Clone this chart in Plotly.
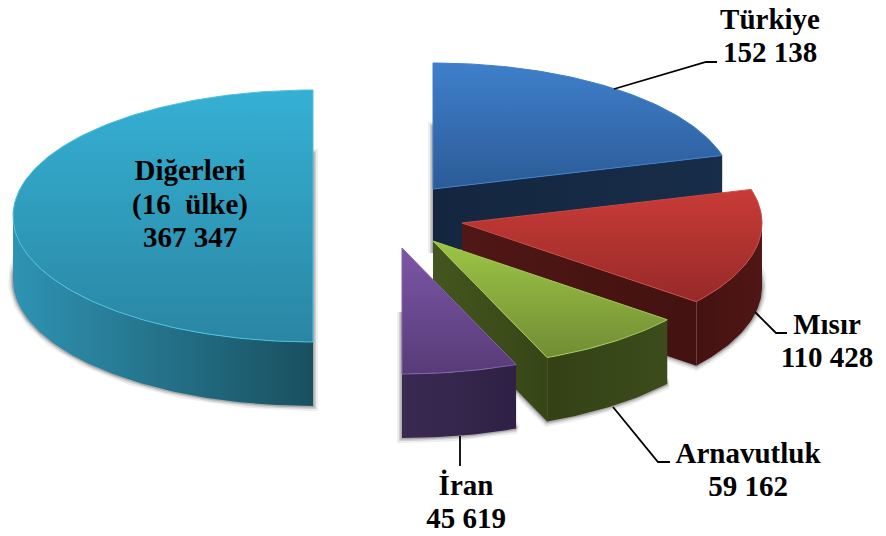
import numpy as np
import plotly.graph_objects as go

# Data
names = ["Türkiye", "Mısır", "Arnavutluk", "İran", "Diğerleri"]
values = [152138, 110428, 59162, 45619, 367347]
value_labels = ["152 138", "110 428", "59 162", "45 619", "367 347"]

# Projection of the 3D pie on the page (pixels)
RX, RY, DEPTH = 300, 126, 64
apex_x = [433, 462, 433, 402, 313]
apex_y = [189, 223, 241, 248, 216]
# listed bottom colour first: the gradient runs up the page
top_colors = [("#2b5b97", "#3f7fcb"), ("#962a29", "#c93b37"), ("#718d34", "#9dc546"),
              ("#573b77", "#7c56a7"), ("#2a86a3", "#35b0d4")]
edge_colors = ["#3f7fcb", "#c94a45", "#a6cc55", "#8560ae", "#4cc0e2"]
side_colors = [("#14263f", "#182d49"), ("#451211", "#4f1715"), ("#334114", "#3c4c1c"),
               ("#3a2a52", "#2e2145"), ("#2f93b3", "#19505f")]
cut_colors = [("#14263f", "#182d49"), ("#4f1715", "#431210"), ("#44561f", "#364516"),
              ("#3a2a52", "#2e2145"), ("#19505f", "#19505f")]

total = sum(values)
shares = np.cumsum([0] + values) / total * 2 * np.pi


def arc(cx, cy, a0, a1):
    t = np.linspace(a0, a1, max(int(abs(a1 - a0) * 60), 2))
    return cx + RX * np.sin(t), cy - RY * np.cos(t)


def poly(x, y, colors, kind="vertical", line=None, lw=0.0):
    grad = dict(type=kind, colorscale=[[0, colors[0]], [1, colors[1]]])
    return go.Scatter(x=list(x) + [x[0]], y=list(y) + [y[0]], mode="lines", fill="toself",
                      fillgradient=grad,
                      line=dict(color=line or "rgba(0,0,0,0)", width=lw),
                      hoverinfo="skip", showlegend=False)


fig = go.Figure()
for i in [4, 0, 1, 2, 3]:
    cx, cy = apex_x[i], apex_y[i]
    a0, a1 = shares[i], shares[i + 1]

    # soft shadow round the lower face
    ax, ay = arc(cx, cy + DEPTH, a0, a1)
    sx = [cx] + list(ax) + [cx]
    sy = [cy + DEPTH] + list(ay) + [cy + DEPTH]
    for w, op in [(10, 0.07), (6, 0.12), (3, 0.18)]:
        fig.add_trace(go.Scatter(x=sx, y=sy, mode="lines",
                                 line=dict(color=f"rgba(0,0,0,{op})", width=w),
                                 hoverinfo="skip", showlegend=False))

    # cut face seen from the front (only where the closing edge points right)
    ex, ey = cx + RX * np.sin(a1), cy - RY * np.cos(a1)
    if a1 < np.pi:
        fig.add_trace(poly([cx, ex, ex, cx], [cy, ey, ey + DEPTH, cy + DEPTH], cut_colors[i], "horizontal"))

    # rim, front half only
    b0, b1 = max(a0, np.pi / 2), min(a1, 1.5 * np.pi)
    if b1 > b0:
        tx, ty = arc(cx, cy, b0, b1)
        fig.add_trace(poly(list(tx) + list(tx[::-1]), list(ty) + list(ty[::-1] + DEPTH),
                           side_colors[i], "horizontal"))

    # top face
    tx, ty = arc(cx, cy, a0, a1)
    fig.add_trace(poly([cx] + list(tx), [cy] + list(ty), top_colors[i], "vertical",
                      line=edge_colors[i], lw=1))

# Leader lines
leaders = [
    ([614, 706, 717], [89, 62, 62]),
    ([755, 776, 787], [312, 333, 333]),
    ([613, 658, 670], [407, 462, 462]),
    ([460, 460], [436, 466]),
]
for lx, ly in leaders:
    fig.add_trace(go.Scatter(x=lx, y=ly, mode="lines", line=dict(color="black", width=1.8),
                             hoverinfo="skip", showlegend=False))

# Labels
label_lines = [
    (770, 22, names[0]), (770, 55, value_labels[0]),
    (827, 327, names[1]), (827, 360, value_labels[1]),
    (748, 456, names[2]), (748, 489, value_labels[2]),
    (466, 488, names[3]), (466, 521, value_labels[3]),
    (190, 173, names[4]), (190, 207, "(16\u00a0 ülke)"), (190, 240, value_labels[4]),
]
fig.add_trace(go.Scatter(x=[p[0] for p in label_lines], y=[p[1] for p in label_lines],
                         text=[f"<b>{p[2]}</b>" for p in label_lines], mode="text",
                         textposition="middle center",
                         textfont=dict(family="Liberation Serif", size=29, color="black"),
                         hoverinfo="skip", showlegend=False))

fig.update_layout(width=886, height=536, margin=dict(l=0, r=0, t=0, b=0),
                  paper_bgcolor="white", plot_bgcolor="white",
                  xaxis=dict(range=[0, 886], visible=False, fixedrange=True),
                  yaxis=dict(range=[536, 0], visible=False, fixedrange=True))
fig.write_html("out.html", config=dict(displayModeBar=False),
               post_script="document.body.style.margin='0';document.body.style.overflow='hidden';")
